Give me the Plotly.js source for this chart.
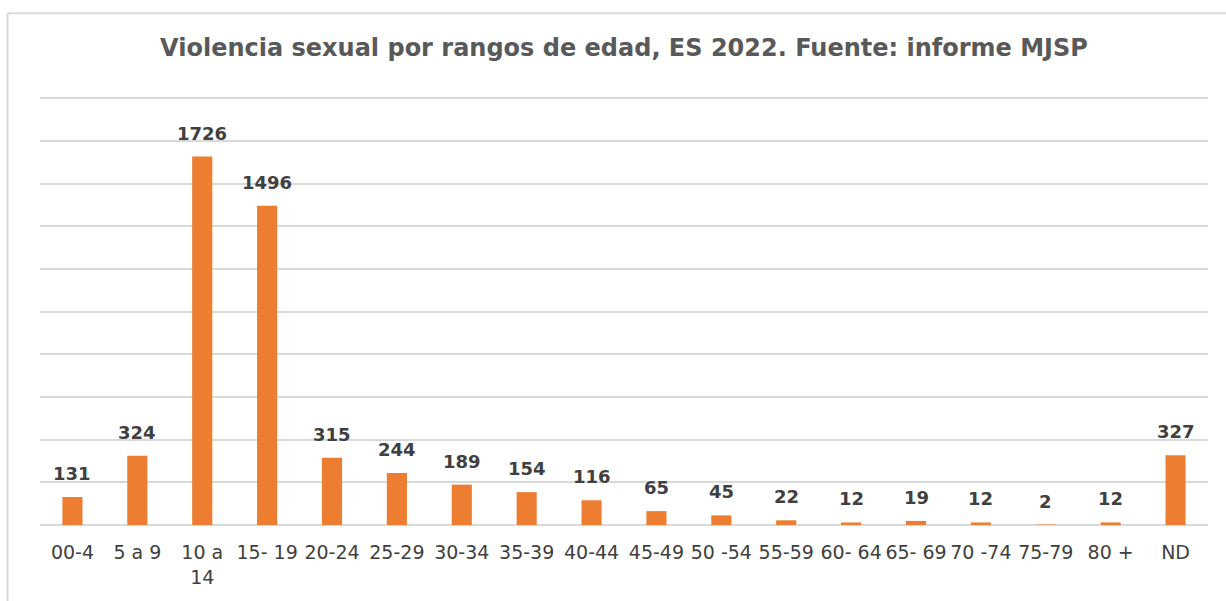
<!DOCTYPE html>
<html>
<head>
<meta charset="utf-8">
<script src="https://cdn.plot.ly/plotly-3.0.1.min.js"></script>
<style>html,body{margin:0;padding:0;background:#fff;}#chart{width:1226px;height:601px;}</style>
</head>
<body>
<div id="chart"></div>
<script>
const categories = ["00-4", "5 a 9", "10 a<br>14", "15- 19", "20-24", "25-29", "30-34", "35-39", "40-44", "45-49", "50 -54", "55-59", "60- 64", "65- 69", "70 -74", "75-79", "80 +", "ND"];
const values = [131, 324, 1726, 1496, 315, 244, 189, 154, 116, 65, 45, 22, 12, 19, 12, 2, 12, 327];
const titleText = "Violencia sexual por rangos de edad, ES 2022. Fuente: informe MJSP";

const trace = {
  type: "bar",
  x: categories,
  y: values,
  marker: {color: "#ED7D31"},
  cliponaxis: false,
  hoverinfo: "x+y"
};

const labelAnnotations = categories.map((c, i) => ({
  x: c,
  y: values[i],
  xref: "x",
  yref: "y",
  text: "<b>" + values[i] + "</b>",
  showarrow: false,
  xanchor: "center",
  yanchor: "bottom",
  yshift: 11,
  font: {family: "DejaVu Sans, sans-serif", size: 18, color: "#404040"}
}));

const layout = {
  width: 1226,
  height: 601,
  margin: {l: 40, r: 18, t: 96, b: 76},
  paper_bgcolor: "#ffffff",
  plot_bgcolor: "#ffffff",
  bargap: 0.69,
  showlegend: false,
  title: {
    text: "<b>" + titleText + "</b>",
    x: 0.5, xref: "paper", xanchor: "center",
    y: 51, yref: "container", yanchor: "middle",
    font: {family: "DejaVu Sans, sans-serif", size: 24, color: "#595959"}
  },
  xaxis: {
    type: "category",
    showgrid: false,
    showline: false,
    ticks: "",
    ticklabelstandoff: 14,
    tickfont: {family: "DejaVu Sans, sans-serif", size: 19, color: "#404040"},
    tickangle: 0
  },
  yaxis: {
    range: [0, 2010],
    dtick: 200,
    showticklabels: false,
    showgrid: true,
    gridcolor: "#d9d9d9",
    gridwidth: 2,
    zeroline: true,
    zerolinecolor: "#d9d9d9",
    zerolinewidth: 2,
    ticks: ""
  },
  annotations: labelAnnotations,
  shapes: [
    {type: "line", xref: "paper", yref: "paper", x0: -0.0278, x1: -0.0278, y0: 1.193, y1: -0.3, line: {color: "#d9d9d9", width: 2}},
    {type: "line", xref: "paper", yref: "paper", x0: -0.0278, x1: 1.1, y0: 1.193, y1: 1.193, line: {color: "#d9d9d9", width: 2}}
  ]
};

Plotly.newPlot("chart", [trace], layout, {displayModeBar: false, staticPlot: true});
</script>
</body>
</html>
